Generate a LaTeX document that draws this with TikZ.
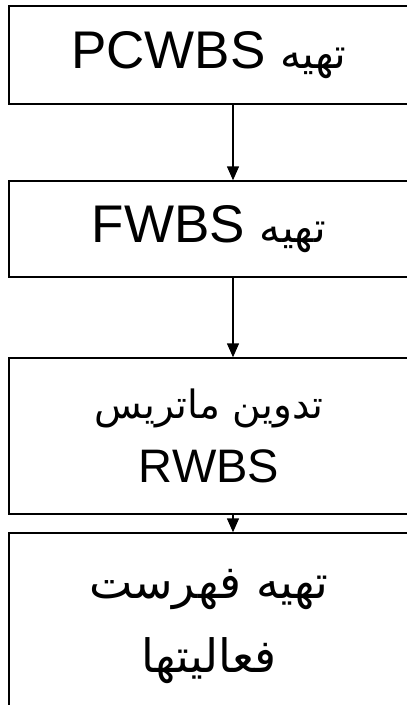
\documentclass[tikz,border=0pt]{standalone}
\usepackage{fontspec}
\setmainfont{Liberation Sans}
\newfontfamily\fa[Script=Arabic]{DejaVu Sans}
\TeXXeTstate=1
\usetikzlibrary{arrows.meta}
\begin{document}
\begin{tikzpicture}[x=1pt,y=-1pt,>={Triangle[width=12pt,length=14pt]},line width=1.4pt,
  box/.style={draw,rectangle,minimum width=400pt,align=center,inner sep=0pt}]
\useasboundingbox (0,0) rectangle (407,705);
\clip (0,0) rectangle (407,705);
\node[box,minimum height=98pt,font={\fontsize{53}{60}\selectfont}] (pcwbs) at (209,55)
  {\beginR{\fa\fontsize{42}{60}\selectfont تهیه} \beginL PCWBS\endL\endR};
\node[box,minimum height=96pt,font={\fontsize{53}{60}\selectfont}] (fwbs) at (209,229)
  {\beginR{\fa\fontsize{42}{60}\selectfont تهیه} \beginL FWBS\endL\endR};
\node[box,minimum height=156pt,font={\fontsize{47}{64}\selectfont}] (rwbs) at (209,436)
  {{\fa\fontsize{39}{64}\selectfont\beginR تدوین ماتریس\endR}\\RWBS};
\node[box,minimum height=186pt,font={\fa\fontsize{46}{74}\selectfont}] (fehrest) at (209,626)
  {\beginR تهیه فهرست\endR\\\beginR فعالیتها\endR};
\coordinate (ax) at (233,0);
\foreach \a/\b in {pcwbs/fwbs,fwbs/rwbs,rwbs/fehrest}
{
    \draw[->] (\a.south -| ax)--(\b.north -| ax);
}
\end{tikzpicture}
\end{document}
